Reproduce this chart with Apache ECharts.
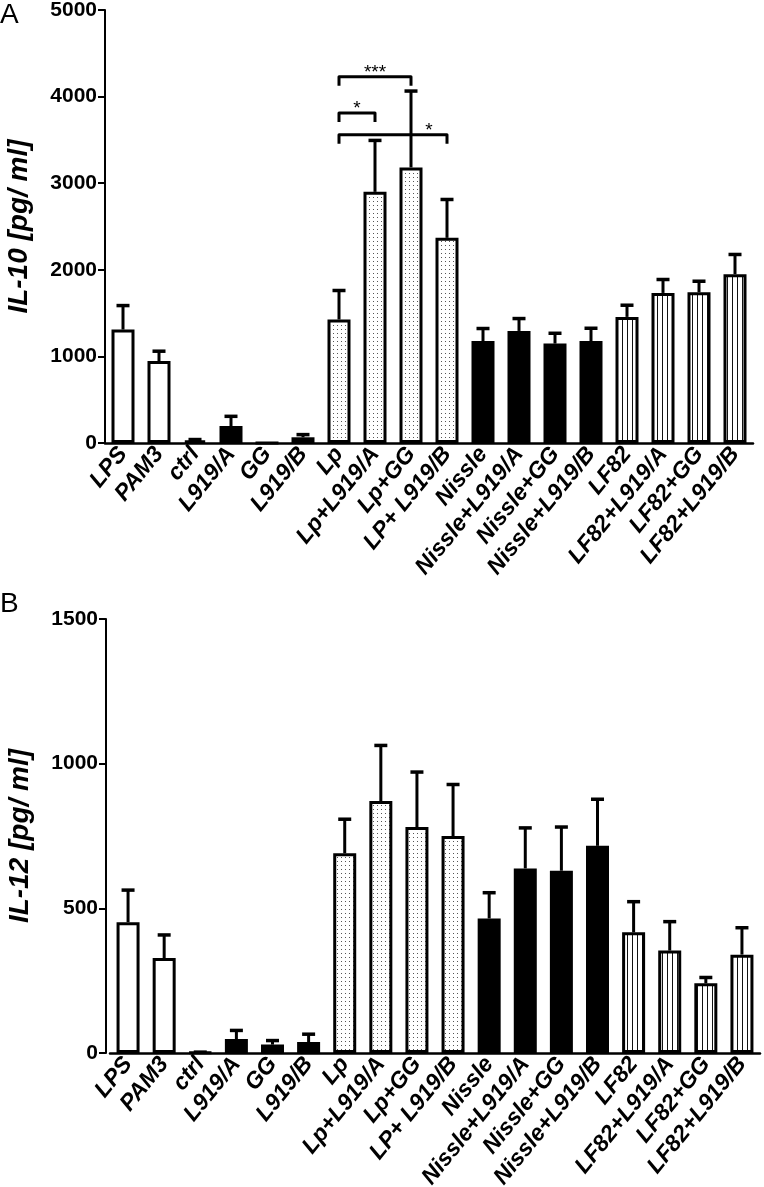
<!DOCTYPE html>
<html>
<head>
<meta charset="utf-8">
<script src="https://cdn.jsdelivr.net/npm/echarts@6/dist/echarts.min.js"></script>
<style>
  html, body { margin: 0; padding: 0; background: #fff; }
  #chart { width: 764px; height: 1187px; }
</style>
</head>
<body>
<div id="chart"></div>
<script>
// ---- data ----
const categories = ['LPS', 'PAM3', 'ctrl', 'L919/A', 'GG', 'L919/B', 'Lp', 'Lp+L919/A', 'Lp+GG', 'LP+ L919/B',
  'Nissle', 'Nissle+L919/A', 'Nissle+GG', 'Nissle+L919/B', 'LF82', 'LF82+L919/A', 'LF82+GG', 'LF82+L919/B'];
const groupFill = ['open', 'open', 'open', 'solid', 'solid', 'solid', 'dot', 'dot', 'dot', 'dot',
  'solid', 'solid', 'solid', 'solid', 'stripe', 'stripe', 'stripe', 'stripe'];

const il10Mean = [1310, 947, 30, 196, 0, 66, 1426, 2900, 3182, 2369, 1178, 1294, 1148, 1178, 1456, 1733, 1741, 1949];
const il10Err  = [277, 113, 10, 112, 0, 31, 335, 594, 882, 443, 144, 143, 119, 147, 135, 155, 127, 228];

const il12Mean = [452, 328, 2, 48, 29, 38, 690, 871, 781, 750, 465, 638, 630, 716, 417, 354, 241, 340];
const il12Err  = [111, 80, 1, 30, 14, 27, 118, 192, 190, 178, 89, 140, 151, 161, 106, 100, 20, 93];

const il10Ticks = [0, 1000, 2000, 3000, 4000, 5000];
const il12Ticks = [0, 500, 1000, 1500];

// significance brackets (panel A)
const bracketFrom    = [6, 6, 6];
const bracketTo      = [8, 7, 9];
const bracketY       = [4230, 3810, 3560];
const bracketLabel   = ['***', '*', '*'];
const bracketLabelAt = [7, 6.5, 8.5];

// ---- patterns ----
function makeDot() {
  const c = document.createElement('canvas');
  c.width = 4; c.height = 4;
  const g = c.getContext('2d');
  g.fillStyle = '#fff'; g.fillRect(0, 0, 4, 4);
  g.fillStyle = '#555'; g.fillRect(1, 1, 1, 1);
  return c;
}
function makeStripe() {
  const c = document.createElement('canvas');
  c.width = 5; c.height = 4;
  const g = c.getContext('2d');
  g.fillStyle = '#fff'; g.fillRect(0, 0, 5, 4);
  g.fillStyle = '#111'; g.fillRect(2, 0, 1, 4);
  return c;
}
const dotPat = { image: makeDot(), repeat: 'repeat' };
const stripePat = { image: makeStripe(), repeat: 'repeat' };
function fillFor(kind) {
  if (kind === 'solid') return '#000';
  if (kind === 'dot') return dotPat;
  if (kind === 'stripe') return stripePat;
  return '#fff';
}

const FONT = 'Liberation Sans, Arial, sans-serif';

function barData(means) {
  return means.map((v, i) => ({
    value: v,
    itemStyle: { color: fillFor(groupFill[i]), borderColor: '#000', borderWidth: 3 }
  }));
}

function errRender(params, api) {
  const x = api.value(0);
  const lo = api.value(1);
  const hi = api.value(2);
  if (!(hi > lo)) return null;
  const p0 = api.coord([x, lo]);
  const p1 = api.coord([x, hi]);
  return {
    type: 'group',
    children: [
      { type: 'line', shape: { x1: p0[0], y1: p0[1], x2: p1[0], y2: p1[1] }, style: { stroke: '#000', lineWidth: 3 } },
      { type: 'line', shape: { x1: p1[0] - 6.5, y1: p1[1], x2: p1[0] + 6.5, y2: p1[1] }, style: { stroke: '#000', lineWidth: 3.5 } }
    ]
  };
}

function bracketRender(params, api) {
  const i = params.dataIndex;
  const a = api.coord([bracketFrom[i], bracketY[i]]);
  const b = api.coord([bracketTo[i], bracketY[i]]);
  const at = bracketLabelAt[i];
  const lo = api.coord([Math.floor(at), bracketY[i]]);
  const hiC = api.coord([Math.ceil(at), bracketY[i]]);
  const frac = at - Math.floor(at);
  const lx = lo[0] + (hiC[0] - lo[0]) * frac;
  const leg = 9;
  return {
    type: 'group',
    children: [
      { type: 'polyline', shape: { points: [[a[0], a[1] + leg], [a[0], a[1]], [b[0], b[1]], [b[0], b[1] + leg]] },
        style: { stroke: '#000', lineWidth: 3, fill: null, lineJoin: 'round' } },
      { type: 'text', x: lx, y: a[1] - 4,
        style: { text: bracketLabel[i], font: '19px ' + FONT, fill: '#000', align: 'center', verticalAlign: 'middle' } }
    ]
  };
}

function xAxisCfg(gi) {
  return {
    type: 'category', gridIndex: gi, data: categories,
    axisLine: { lineStyle: { color: '#000', width: 2.5 } },
    axisTick: { alignWithLabel: true, length: 6, lineStyle: { color: '#000', width: 2 } },
    axisLabel: { rotate: 51, margin: 7, color: '#000', fontFamily: FONT, fontSize: 23,
      fontWeight: 'bold', fontStyle: 'italic', interval: 0 },
    splitLine: { show: false }
  };
}
function yAxisCfg(gi, max, interval, name, offset) {
  return {
    type: 'value', gridIndex: gi, min: 0, max: max, interval: interval, offset: offset,
    name: name, nameLocation: 'middle', nameGap: 72, nameRotate: 90,
    nameTextStyle: { color: '#000', fontFamily: FONT, fontSize: 28, fontWeight: 'bold', fontStyle: 'italic' },
    axisLine: { show: true, lineStyle: { color: '#000', width: 2 } },
    axisTick: { show: true, length: 7, lineStyle: { color: '#000', width: 2 } },
    axisLabel: { color: '#000', fontFamily: FONT, fontSize: 21, fontWeight: 'bold', margin: 8,
      formatter: v => String(v) },
    splitLine: { show: false }
  };
}

const chart = echarts.init(document.getElementById('chart'), null, { renderer: 'canvas' });
chart.setOption({
  backgroundColor: '#fff',
  animation: false,
  grid: [
    { left: 105, top: 10, width: 648, height: 433, outerBoundsMode: 'none', containLabel: false },
    { left: 110, top: 619, width: 650, height: 434, outerBoundsMode: 'none', containLabel: false }
  ],
  xAxis: [xAxisCfg(0), xAxisCfg(1)],
  yAxis: [
    yAxisCfg(0, il10Ticks[il10Ticks.length - 1], il10Ticks[1] - il10Ticks[0], 'IL-10 [pg/ ml]', 0),
    yAxisCfg(1, il12Ticks[il12Ticks.length - 1], il12Ticks[1] - il12Ticks[0], 'IL-12 [pg/ ml]', 4)
  ],
  graphic: [
    { type: 'text', left: 0, top: 1, style: { text: 'A', font: '28px ' + FONT, fill: '#000' } },
    { type: 'text', left: 0, top: 590, style: { text: 'B', font: '28px ' + FONT, fill: '#000' } }
  ],
  series: [
    { type: 'bar', xAxisIndex: 0, yAxisIndex: 0, barWidth: 23, data: barData(il10Mean), z: 2 },
    { type: 'custom', xAxisIndex: 0, yAxisIndex: 0, renderItem: errRender, z: 3,
      encode: { x: 0, y: [1, 2] },
      data: il10Mean.map((m, i) => [i, m, m + il10Err[i]]) },
    { type: 'custom', xAxisIndex: 0, yAxisIndex: 0, renderItem: bracketRender, z: 4,
      encode: { x: [0, 1], y: 2 },
      data: bracketY.map((y, i) => [bracketFrom[i], bracketTo[i], y]) },
    { type: 'bar', xAxisIndex: 1, yAxisIndex: 1, barWidth: 23, data: barData(il12Mean), z: 2 },
    { type: 'custom', xAxisIndex: 1, yAxisIndex: 1, renderItem: errRender, z: 3,
      encode: { x: 0, y: [1, 2] },
      data: il12Mean.map((m, i) => [i, m, m + il12Err[i]]) }
  ]
});
</script>
</body>
</html>
